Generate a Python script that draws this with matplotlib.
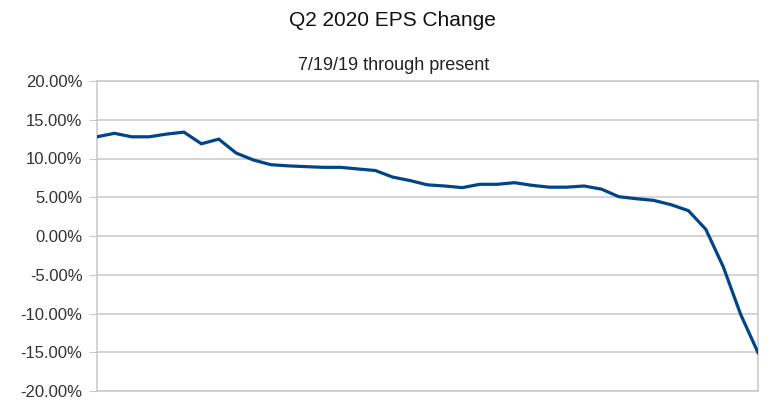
import matplotlib
matplotlib.use("Agg")
import matplotlib.pyplot as plt
from matplotlib.ticker import FuncFormatter, MultipleLocator

eps_change = [12.8, 13.25, 12.8, 12.8, 13.15, 13.4, 11.9, 12.5, 10.7, 9.8,
              9.2, 9.05, 8.95, 8.86, 8.86, 8.65, 8.45, 7.6, 7.15, 6.6,
              6.45, 6.24, 6.67, 6.67, 6.88, 6.54, 6.3, 6.3, 6.45, 6.05,
              5.07, 4.81, 4.6, 4.04, 3.27, 0.86, -3.96, -10.1, -15.05]
title = "Q2 2020 EPS Change"
subtitle = "7/19/19 through present"

plt.rcParams['font.family'] = ['Liberation Sans', 'DejaVu Sans']
fig = plt.figure(figsize=(7.74, 4.20), dpi=100)
ax = fig.add_axes([97/774, 1-391/420, (758-97)/774, (391-81)/420])

x = list(range(len(eps_change)))
ax.plot(x, eps_change, color='#004586', lw=2.3, solid_joinstyle='miter', zorder=3)
ax.set_xlim(0, len(eps_change)-1)
ax.set_ylim(-20, 20)
ax.yaxis.set_major_locator(MultipleLocator(5))
ax.yaxis.set_major_formatter(FuncFormatter(lambda v, p: f"{v:.2f}%"))
ax.set_xticks([])
ax.grid(axis='y', color='#c8c8c8', lw=1.1)
for s in ax.spines.values():
    s.set_color('#c8c8c8')
    s.set_linewidth(1.1)
ax.tick_params(axis='y', length=5.5, color='#c8c8c8', labelsize=12, labelcolor='#333333', pad=5)

fig.text(392/774, 1-20/420, title, ha='center', va='center', fontsize=15, color='#111111')
fig.text(394/774, 1-65/420, subtitle, ha='center', va='center', fontsize=13, color='#222222')

fig.savefig("out.png", dpi=100)
